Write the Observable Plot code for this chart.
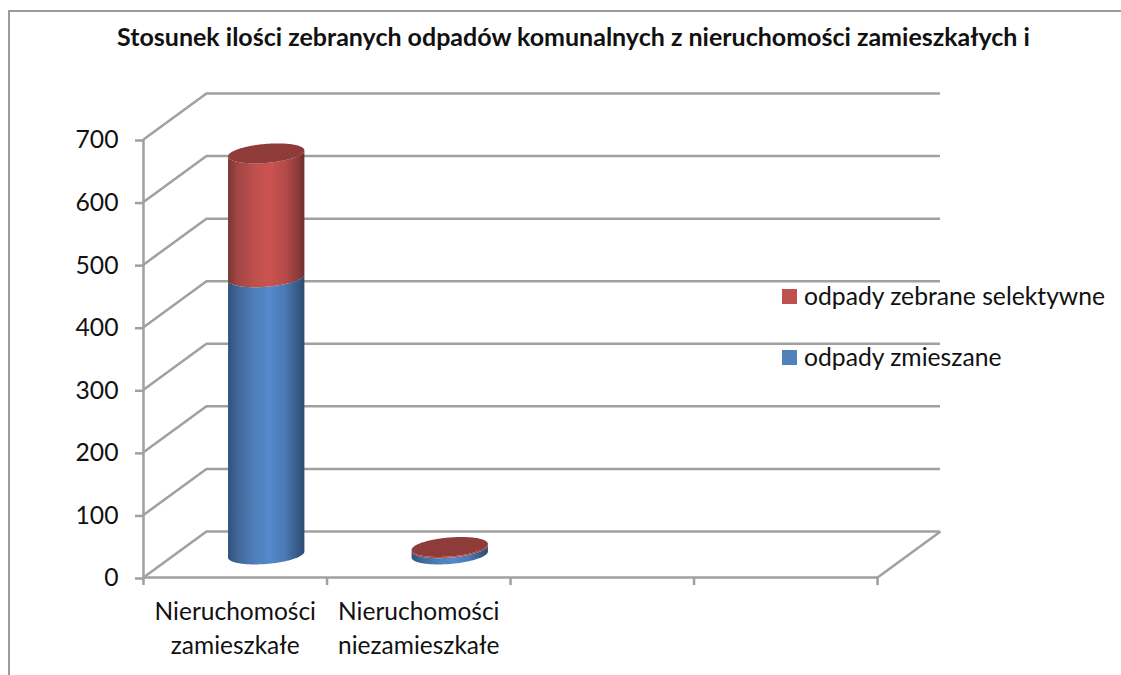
<!DOCTYPE html>
<html lang="pl">
<head>
<meta charset="utf-8">
<script src="https://cdn.jsdelivr.net/npm/d3@7"></script>
<script src="https://cdn.jsdelivr.net/npm/@observablehq/plot@0.6"></script>
<style>
  html, body { margin: 0; padding: 0; width: 1121px; height: 675px; overflow: hidden; background: #fff; }
  body { font-family: Lato, "Noto Sans", sans-serif; color: #111; position: relative; }
  #frame { position: absolute; left: 8px; top: 10px; width: 1200px; height: 800px; border: 2px solid #9c9c9c; box-sizing: border-box; }
  #title { position: absolute; left: 0; top: 21px; width: 1147px; text-align: center; font-weight: 700; font-size: 25px; line-height: 30px; white-space: nowrap; }
  #chart { position: absolute; left: 0; top: 69.5px; }
  #legend { position: absolute; left: 782px; top: 281px; font-size: 24.7px; }
  .row { position: absolute; left: 0; white-space: nowrap; height: 30px; line-height: 30px; }
  .sw { position: absolute; left: 0; top: 8px; width: 15px; height: 15px; }
  .lb { position: absolute; left: 22px; top: 0; }
</style>
</head>
<body>
<div id="frame"></div>
<div id="title"></div>
<div id="chart"></div>
<div id="legend"></div>
<script>
const titleText = "Stosunek ilości zebranych odpadów komunalnych z nieruchomości zamieszkałych i";
const categories = ["Nieruchomości\nzamieszkałe", "Nieruchomości\nniezamieszkałe"];
const mixed = [443, 10];
const selective = [198, 2];
const seriesNames = ["odpady zebrane selektywne", "odpady zmieszane"];
const seriesColors = ["#c0504d", "#4f81bd"];
const yTicks = [0, 100, 200, 300, 400, 500, 600, 700];
const xDivisions = [0, 1, 2, 3, 4];

// 3D frame expressed in data units
const depthX = 0.343, depthY = 73.5;
const floorY = 36;                   // y of the cylinder base centres (mid depth)
const radiusX = 0.208, radiusY = 15.2, tilt = 4.8;

const sample = d3.range(0, 121).map(i => Math.cos(Math.PI * (1 - i / 120)));
const cx = i => i + 0.5 + depthX / 2;

function wall(i, from, to) {
  return sample.map(u => {
    const s = tilt * u, h = radiusY * Math.sqrt(Math.max(0, 1 - u * u));
    return {cat: i, x: cx(i) + radiusX * u,
      y1: floorY + from + s - h, y2: floorY + to + s - h};
  });
}
function cap(i, at) {
  return sample.map(u => {
    const s = tilt * u, h = radiusY * Math.sqrt(Math.max(0, 1 - u * u));
    return {cat: i, x: cx(i) + radiusX * u,
      y1: floorY + at + s - h, y2: floorY + at + s + h};
  });
}
const blueWalls = categories.flatMap((_, i) => wall(i, 0, mixed[i]));
const redWalls = categories.flatMap((_, i) => wall(i, mixed[i], mixed[i] + selective[i]));
const caps = categories.flatMap((_, i) => cap(i, mixed[i] + selective[i]));

function gradient(id, stops) {
  return `<linearGradient id="${id}" x1="0" x2="1" y1="0" y2="0">` +
    stops.map(([o, c]) => `<stop offset="${o}" stop-color="${c}"/>`).join("") + `</linearGradient>`;
}
const defsMark = () => {
  const g = document.createElementNS("http://www.w3.org/2000/svg", "defs");
  g.innerHTML =
    gradient("gBlue", [[0, "#2f527c"], [0.12, "#3f6696"], [0.35, "#4f7fba"], [0.55, "#5589cb"], [0.75, "#4a78b2"], [0.92, "#355a87"], [1, "#2c4a70"]]) +
    gradient("gRed", [[0, "#7b3533"], [0.12, "#a04644"], [0.35, "#bf4f4c"], [0.55, "#cb5350"], [0.75, "#b54a48"], [0.92, "#8a3b39"], [1, "#702e2c"]]);
  return g;
};

const gridColor = "#a0a0a0";
const gridWidth = 2.5;
const chart = Plot.plot({
  width: 1121, height: 605,
  marginLeft: 143, marginRight: 181, marginTop: 23, marginBottom: 98,
  style: {fontFamily: "Lato, 'Noto Sans', sans-serif", background: "transparent", overflow: "visible"},
  x: {type: "linear", domain: [0, 4 + depthX], axis: null},
  y: {type: "linear", domain: [0, 700 + depthY], axis: null},
  marks: [
    defsMark,
    // back wall grid and side wall diagonals
    Plot.ruleY(yTicks.map(v => v + depthY), {x1: depthX, x2: 4 + depthX, stroke: gridColor, strokeWidth: gridWidth}),
    Plot.link(yTicks, {x1: 0, y1: d => d, x2: depthX, y2: d => d + depthY, stroke: gridColor, strokeWidth: gridWidth}),
    Plot.link([4], {x1: d => d, y1: 0, x2: d => d + depthX, y2: depthY, stroke: gridColor, strokeWidth: gridWidth}),
    Plot.ruleX([0], {y1: 0, y2: 700, stroke: gridColor, strokeWidth: gridWidth}),
    Plot.ruleY([0], {x1: 0, x2: 4, stroke: gridColor, strokeWidth: gridWidth}),
    // axes
    Plot.axisY({ticks: yTicks, anchor: "left", label: null, tickSize: 8, tickPadding: 17, stroke: gridColor, strokeWidth: gridWidth, fontSize: 24.7, fill: "#111", textStroke: "none", dy: 1}),
    Plot.axisX({ticks: xDivisions, anchor: "bottom", label: null, tickSize: 8, tickFormat: () => "", stroke: gridColor, strokeWidth: gridWidth}),
    Plot.axisX({ticks: [0.5, 1.5], anchor: "bottom", label: null, tickSize: 0, tickPadding: 18, tickFormat: v => categories[Math.floor(v)], fontSize: 24.5, lineHeight: 1.39, textOverflow: null, fill: "#111"}),
    // cylinders
    Plot.area(blueWalls, {x1: "x", y1: "y1", y2: "y2", z: "cat", fill: "url(#gBlue)"}),
    Plot.area(redWalls, {x1: "x", y1: "y1", y2: "y2", z: "cat", fill: "url(#gRed)"}),
    Plot.area(caps, {x1: "x", y1: "y1", y2: "y2", z: "cat", fill: "#8f3b39"})
  ]
});
document.getElementById("chart").append(chart);
document.getElementById("title").textContent = titleText;

const legend = document.getElementById("legend");
seriesNames.forEach((name, i) => {
  const row = document.createElement("div");
  row.className = "row";
  row.style.top = (i * 61) + "px";
  const sw = document.createElement("div");
  sw.className = "sw";
  sw.style.background = seriesColors[i];
  const lb = document.createElement("div");
  lb.className = "lb";
  lb.textContent = name;
  row.append(sw, lb);
  legend.append(row);
});
</script>
</body>
</html>
